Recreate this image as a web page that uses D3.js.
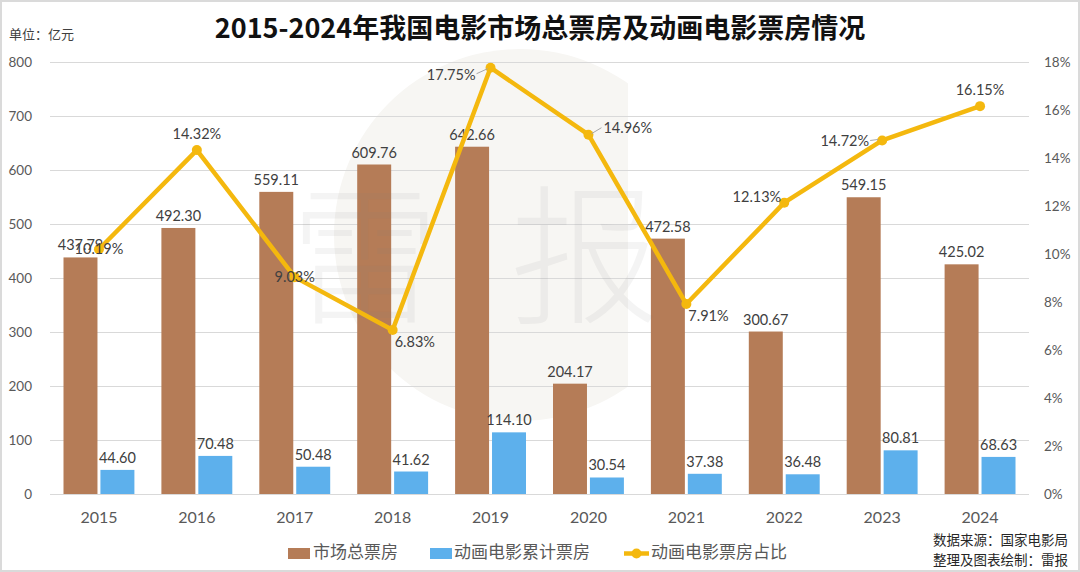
<!DOCTYPE html>
<html><head><meta charset="utf-8">
<script src="https://cdn.jsdelivr.net/npm/d3@7"></script>
<style>body{margin:0;background:#fff}svg{display:block}</style>
</head><body><svg id="c" width="1080" height="572"></svg>
<script>
// ---- data ----
const years = ["2015","2016","2017","2018","2019","2020","2021","2022","2023","2024"];
const totalBoxOffice = [437.79,492.30,559.11,609.76,642.66,204.17,472.58,300.67,549.15,425.02];
const animBoxOffice = [44.60,70.48,50.48,41.62,114.10,30.54,37.38,36.48,80.81,68.63];
const animShare = [10.19,14.32,9.03,6.83,17.75,14.96,7.91,12.13,14.72,16.15];
const leftTicks = [0,100,200,300,400,500,600,700,800];
const rightTicks = [0,2,4,6,8,10,12,14,16,18];
const seriesNames = ["市场总票房","动画电影累计票房","动画电影票房占比"];
const shareLabelPlacement = ["center","above","center","belowRight","leftLeader","rightLeader","belowRight","leftAbove","leftLeaderFlat","above"];
const titleText = "2015-2024年我国电影市场总票房及动画电影票房情况";
const unitText = "单位：亿元";
const sourceLines = ["数据来源：国家电影局","整理及图表绘制：雷报"];
const watermarkChars = ["雷","报"];

// ---- style ----
const C_BROWN = "#B57C57", C_BLUE = "#5DB0EC", C_YEL = "#F4B80E";
const NUM = "Lato, 'Liberation Sans', sans-serif";
const CJK = "'Noto Sans CJK SC', sans-serif";
const svg = d3.select("#c");
const M = {l:50, r:1029, t:61.7, b:494};

// frame
svg.append("rect").attr("x",1).attr("y",1).attr("width",1078).attr("height",570)
  .attr("fill","#fff").attr("stroke","#dadada").attr("stroke-width",2);

// watermark disc (clipped on right)
svg.append("defs").append("clipPath").attr("id","wmclip")
  .append("rect").attr("x",300).attr("y",30).attr("width",328).attr("height",420);
svg.append("circle").attr("cx",520).attr("cy",235).attr("r",186)
  .attr("fill","#f7f6f3").attr("clip-path","url(#wmclip)");

const x0 = d3.scaleBand().domain(years).range([M.l, M.r]).padding(0);
const x1 = d3.scaleBand().domain(["total","anim"]).range([13.5, x0.bandwidth()-13.5]).paddingInner(0.08);
const yL = d3.scaleLinear().domain([0,800]).range([M.b, M.t]);
const yR = d3.scaleLinear().domain([0,18]).range([M.b, M.t]);

// gridlines
svg.append("g").selectAll("line").data(leftTicks).join("line")
  .attr("x1",M.l).attr("x2",M.r).attr("y1",d=>Math.round(yL(d))+0.5).attr("y2",d=>Math.round(yL(d))+0.5)
  .attr("stroke","#d9d9d9").attr("stroke-width",1);

// left axis
const axL = svg.append("g").attr("transform",`translate(${M.l},0)`)
  .call(d3.axisLeft(yL).tickValues(leftTicks).tickSize(0).tickPadding(18));
axL.select(".domain").remove();
axL.selectAll("text").attr("font-family",NUM).attr("font-size",13.5).attr("fill","#595959");

// right axis
const axR = svg.append("g").attr("transform",`translate(${M.r},0)`)
  .call(d3.axisRight(yR).tickValues(rightTicks).tickSize(0).tickPadding(15).tickFormat(d=>d+"%"));
axR.select(".domain").remove();
axR.selectAll("text").attr("font-family",NUM).attr("font-size",13.5).attr("fill","#595959");

// bottom axis
const axB = svg.append("g").attr("transform",`translate(0,${M.b})`)
  .call(d3.axisBottom(x0).tickSize(0).tickPadding(18));
axB.select(".domain").remove();
axB.selectAll("text").attr("font-family",NUM).attr("font-size",16).attr("fill","#595959");

// bars
const rows = years.map((y,i)=>({y, total: totalBoxOffice[i], anim: animBoxOffice[i], share: animShare[i], place: shareLabelPlacement[i]}));
const g = svg.append("g");
const grp = g.selectAll("g").data(rows).join("g").attr("transform",d=>`translate(${x0(d.y)},0)`);
grp.append("rect").attr("x",x1("total")).attr("width",x1.bandwidth())
  .attr("y",d=>yL(d.total)).attr("height",d=>yL(0)-yL(d.total)).attr("fill",C_BROWN);
grp.append("rect").attr("x",x1("anim")).attr("width",x1.bandwidth())
  .attr("y",d=>yL(d.anim)).attr("height",d=>yL(0)-yL(d.anim)).attr("fill",C_BLUE);
grp.append("text").attr("x",x1("total")+x1.bandwidth()/2).attr("y",d=>yL(d.total)-7)
  .attr("text-anchor","middle").attr("font-family",NUM).attr("font-size",14.5).attr("fill","#404040")
  .text(d=>d.total.toFixed(2));
grp.append("text").attr("x",x1("anim")+x1.bandwidth()/2).attr("y",d=>yL(d.anim)-7)
  .attr("text-anchor","middle").attr("font-family",NUM).attr("font-size",14.5).attr("fill","#404040")
  .text(d=>d.anim.toFixed(2));

// watermark text (over bars, translucent)
const wm = svg.append("g").attr("font-family","'Noto Sans CJK SC', serif").attr("font-size",150)
  .attr("font-weight",300).attr("fill","#7a7a7a").attr("fill-opacity",0.085).attr("text-anchor","middle");
wm.append("text").attr("x",365).attr("y",312).text(watermarkChars[0]);
wm.append("text").attr("x",585).attr("y",312).text(watermarkChars[1]);

// line
const cx = d => x0(d.y)+x0.bandwidth()/2;
svg.append("path").datum(rows)
  .attr("d", d3.line().x(cx).y(d=>yR(d.share)))
  .attr("fill","none").attr("stroke",C_YEL).attr("stroke-width",4.5).attr("stroke-linejoin","round");
svg.append("g").selectAll("circle").data(rows).join("circle")
  .attr("cx",cx).attr("cy",d=>yR(d.share)).attr("r",5).attr("fill",C_YEL);

// share labels
const P = {
  center:{dx:0,dy:5,a:"middle"},
  above:{dx:0,dy:-11,a:"middle"},
  belowRight:{dx:2,dy:17,a:"start"},
  leftAbove:{dx:-3,dy:-1,a:"end"},
  leftLeader:{dx:-15,dy:12,a:"end",lead:[[-14,6],[-3,1]]},
  leftLeaderFlat:{dx:-13,dy:6,a:"end",lead:[[-12,0],[-4,-1]]},
  rightLeader:{dx:15,dy:-2,a:"start",lead:[[3,-1],[13,-7]]}
};
const lg = svg.append("g");
rows.forEach(d=>{
  const p = P[d.place], X = cx(d), Y = yR(d.share);
  if (p.lead) lg.append("path").attr("d",d3.line()(p.lead.map(q=>[X+q[0],Y+q[1]])))
    .attr("stroke","#a6a6a6").attr("stroke-width",1).attr("fill","none");
  lg.append("text").attr("x",X+p.dx).attr("y",Y+p.dy).attr("text-anchor",p.a)
    .attr("font-family",NUM).attr("font-size",14.5).attr("fill","#404040")
    .text(d.share.toFixed(2)+"%");
});

// title & unit
svg.append("text").attr("x",540).attr("y",38).attr("text-anchor","middle")
  .attr("font-family",CJK).attr("font-weight",700).attr("font-size",27).attr("fill","#111")
  .text(titleText);
svg.append("text").attr("x",9).attr("y",39).attr("font-family",CJK).attr("font-size",13).attr("fill","#404040")
  .text(unitText);

// legend
const L = svg.append("g").attr("font-family",CJK).attr("font-size",17).attr("fill","#595959");
L.append("rect").attr("x",288).attr("y",548).attr("width",22).attr("height",11).attr("fill",C_BROWN);
L.append("text").attr("x",313).attr("y",558).text(seriesNames[0]);
L.append("rect").attr("x",430).attr("y",548).attr("width",22).attr("height",11).attr("fill",C_BLUE);
L.append("text").attr("x",454).attr("y",558).text(seriesNames[1]);
L.append("line").attr("x1",624).attr("x2",649).attr("y1",553.5).attr("y2",553.5).attr("stroke",C_YEL).attr("stroke-width",4.5);
L.append("circle").attr("cx",636.5).attr("cy",553.5).attr("r",5).attr("fill",C_YEL);
L.append("text").attr("x",651).attr("y",558).text(seriesNames[2]);

// source
const S = svg.append("g").attr("font-family",CJK).attr("font-size",13.5).attr("fill","#262626").attr("text-anchor","end");
S.append("text").attr("x",1068).attr("y",545).text(sourceLines[0]);
S.append("text").attr("x",1068).attr("y",565).text(sourceLines[1]);
</script></body></html>
